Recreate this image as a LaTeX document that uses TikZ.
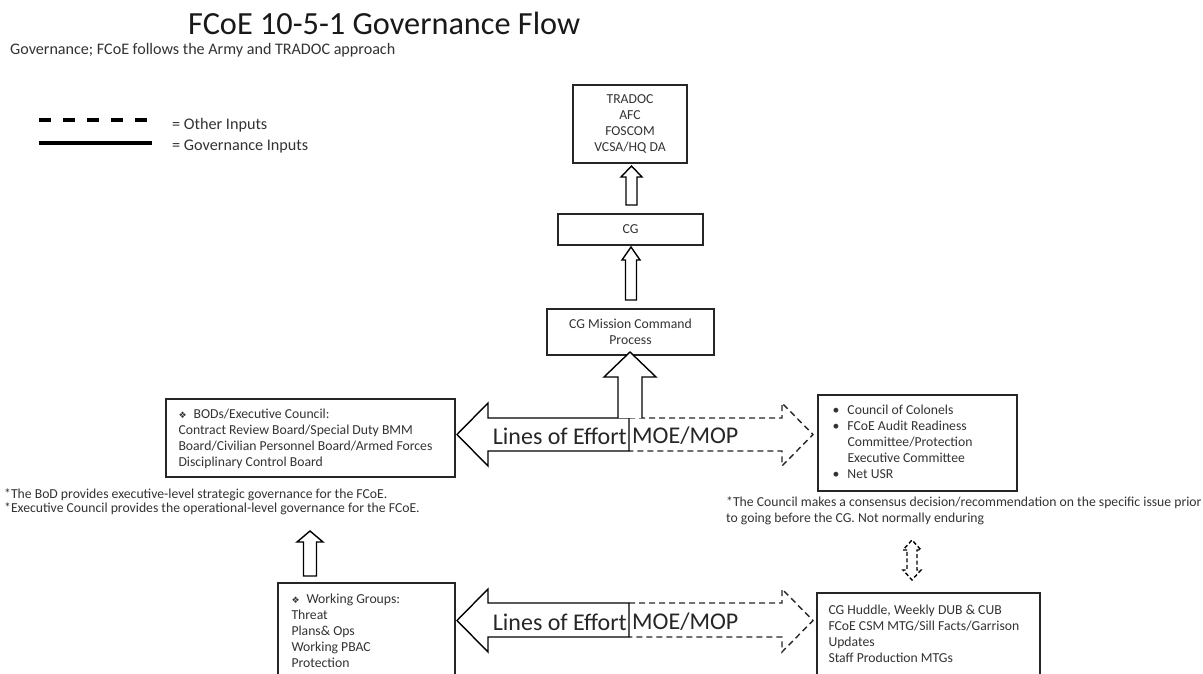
\documentclass[tikz,border=0pt]{standalone}
\usepackage{fontspec}
\setmainfont{Carlito}
\newfontfamily\djv{DejaVu Sans}
\usetikzlibrary{calc}
\newcommand\dia{{\djv\fontsize{9}{9}\selectfont ❖}\hspace{7pt}}
\begin{document}
\begin{tikzpicture}[x=1pt,y=-1pt,
  box/.style={draw=black!85, line width=1.4pt, fill=white, inner sep=0pt},
  boxtxt/.style={text=black!80, font=\fontsize{13.7}{16}\selectfont},
  txt/.style={inner sep=0pt, text=black!80, font=\fontsize{13.7}{16}\selectfont},
  note/.style={inner sep=0pt, text=black!80, font=\fontsize{13.7}{14}\selectfont},
  blk/.style={draw=black, line width=1.4pt, fill=white, line join=miter},
  dsh/.style={draw=black!85, line width=1.4pt, dash pattern=on 6pt off 4pt},
  loe/.style={inner sep=0pt, text=black!85, font=\fontsize{24}{24}\selectfont},
  leg/.style={inner sep=0pt, text=black!80, font=\fontsize{16.2}{18}\selectfont, anchor=west}]
\useasboundingbox (0,0) rectangle (1203,674);
\fill[white] (0,0) rectangle (1203,674);

% title
\node[inner sep=0pt, anchor=base west, text=black!90, font=\fontsize{32.3}{34}\selectfont] (title) at (188,35) {FCoE 10-5-1 Governance Flow};
\node[inner sep=0pt, anchor=base west, text=black!80, font=\fontsize{16.1}{18}\selectfont] (sub) at (10,55) {Governance; FCoE follows the Army and TRADOC approach};

% legend
\coordinate (l1a) at (39,120); \coordinate (l1b) at (151,120);
\coordinate (l2a) at (39,143); \coordinate (l2b) at (152,143);
\draw[line width=3.6pt, dash pattern=on 12pt off 12pt] (l1a) -- (l1b);
\draw[line width=3.6pt] (l2a) -- (l2b);
\node[leg] (leg1) at (172,125) {= Other Inputs};
\node[leg] (leg2) at (172,147) {= Governance Inputs};

% top chain
\node[box, boxtxt, minimum width=114pt, minimum height=78pt, align=center] (tradoc) at (630,124) {TRADOC\\AFC\\FOSCOM\\VCSA/HQ DA};
\node[box, boxtxt, minimum width=145pt, minimum height=31pt] (cg) at (630.5,229.5) {CG};
\node[box, boxtxt, minimum width=167pt, minimum height=46pt, align=center] (mcp) at (630.5,332) {CG Mission Command\\Process};

% small up arrows
\draw[blk] (626,205) -- (626,177) -- (621,177) -- (631.5,166) -- (642,177) -- (637,177) -- (637,205) -- cycle;
\draw[blk] (625.5,300) -- (625.5,260) -- (622,260) -- (631,247) -- (640,260) -- (636.5,260) -- (636.5,300) -- cycle;

% BODs box
\node[box, minimum width=289pt, minimum height=78pt] (bods) at (310.5,438) {};
\node[txt, align=left, anchor=north west] (bodst) at ($(bods.north west)+(13,10)$)
  {\dia BODs/Executive Council:\\Contract Review Board/Special Duty BMM\\Board/Civilian Personnel Board/Armed Forces\\Disciplinary Control Board};

% Council box
\node[box, minimum width=199pt, minimum height=96pt] (council) at (917.5,443) {};
\node[txt, align=left, anchor=north west] (councilt) at ($(council.north west)+(15,10)$)
  {\makebox[15pt][l]{•}Council of Colonels\\\makebox[15pt][l]{•}FCoE Audit Readiness\\\hspace*{15pt}Committee/Protection\\\hspace*{15pt}Executive Committee\\\makebox[15pt][l]{•}Net USR};

% footnotes
\node[note, align=left, anchor=north west] (bodnote) at (4,489) {*The BoD provides executive-level strategic governance for the FCoE.\\*Executive Council provides the operational-level governance for the FCoE.};
\node[note, align=left, anchor=north west, font=\fontsize{13.7}{16}\selectfont] (cnote) at (726,497) {*The Council makes a consensus decision/recommendation on the specific issue prior\\to going before the CG. Not normally enduring};

% Working groups box
\node[box, minimum width=177pt, minimum height=120pt] (wg) at (366.5,643) {};
\node[txt, align=left, anchor=north west] (wgt) at ($(wg.north west)+(14,11)$)
  {\dia Working Groups:\\Threat\\Plans\& Ops\\Working PBAC\\Protection};

% Huddle box
\node[box, minimum width=223pt, minimum height=110pt] (hud) at (928.5,648) {};
\node[txt, align=left, anchor=north west] (hudt) at ($(hud.north west)+(12,12)$)
  {CG Huddle, Weekly DUB \& CUB\\FCoE CSM MTG/Sill Facts/Garrison\\Updates\\Staff Production MTGs};

% upper horizontal arrow
\draw[blk] (629,418) -- (488,418) -- (488,403) -- (457,434.5) -- (488,466) -- (488,451) -- (629,451) -- cycle;
\draw[dsh] (629,418) -- (782,418) -- (782,403) -- (813,434.5) -- (782,466) -- (782,451) -- (629,451);
\node[loe, anchor=east] (loe1) at (627,436) {Lines of Effort};
\node[loe, anchor=west] (moe1) at (632,436) {MOE/MOP};

% big up arrow
\draw[blk] (618,418) -- (618,377) -- (604,377) -- (630,352) -- (656,377) -- (642,377) -- (642,418);

% lower horizontal arrow
\draw[blk] (629,603) -- (488,603) -- (488,589) -- (457,620.5) -- (488,652) -- (488,637) -- (629,637) -- cycle;
\draw[dsh] (629,603) -- (782,603) -- (782,589) -- (813,620.5) -- (782,652) -- (782,637) -- (629,637);
\node[loe, anchor=east] (loe2) at (627,622) {Lines of Effort};
\node[loe, anchor=west] (moe2) at (632,622) {MOE/MOP};

% left small up arrow
\draw[blk] (303.5,576) -- (303.5,542) -- (297,542) -- (310,531) -- (323,542) -- (316.5,542) -- (316.5,576) -- cycle;

% double dashed arrow
\draw[draw=black, line width=1.4pt, dash pattern=on 4pt off 2.5pt, fill=white]
  (907,550) -- (903,550) -- (912,540) -- (921,550) -- (917,550) -- (917,570) -- (921,570) -- (912,580) -- (903,570) -- (907,570) -- cycle;
\end{tikzpicture}
\end{document}
